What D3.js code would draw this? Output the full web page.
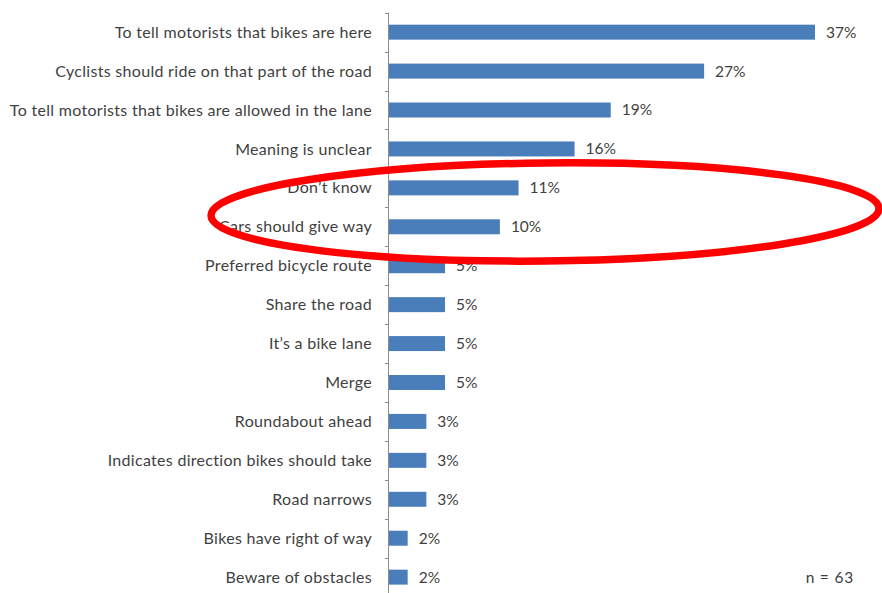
<!DOCTYPE html>
<html>
<head>
<meta charset="utf-8">
<script src="https://cdn.jsdelivr.net/npm/d3@7"></script>
<style>
  html, body { margin: 0; padding: 0; background: #fff; }
  svg { display: block; }
</style>
</head>
<body>
<div id="chart"></div>
<script>
// answers, top to bottom
const categories = [
  'To tell motorists that bikes are here',
  'Cyclists should ride on that part of the road',
  'To tell motorists that bikes are allowed in the lane',
  'Meaning is unclear',
  'Don\u2019t know',
  'Cars should give way',
  'Preferred bicycle route',
  'Share the road',
  'It\u2019s a bike lane',
  'Merge',
  'Roundabout ahead',
  'Indicates direction bikes should take',
  'Road narrows',
  'Bikes have right of way',
  'Beware of obstacles'
];
const values = [36.5, 27.0, 19.0, 15.9, 11.1, 9.5, 4.8, 4.8, 4.8, 4.8, 3.2, 3.2, 3.2, 1.6, 1.6];
const valueLabels = ['37%', '27%', '19%', '16%', '11%', '10%', '5%', '5%', '5%', '5%', '3%', '3%', '3%', '2%', '2%'];
const sampleNote = 'n = 63';

const width = 882;
const height = 593;
const font = 'Lato, "Open Sans", sans-serif';

const svg = d3.select('#chart')
  .append('svg')
  .attr('width', width)
  .attr('height', height)
  .attr('viewBox', [0, 0, width, height]);

const x = d3.scaleLinear()
  .domain([0, 36.5])
  .range([389, 815]);

const y = d3.scaleBand()
  .domain(categories)
  .range([12.7, 596.6])
  .paddingInner(0.615)
  .paddingOuter(0.3075);

const gap = (y.step() - y.bandwidth()) / 2;

// bars
svg.append('g')
  .selectAll('rect')
  .data(values)
  .join('rect')
  .attr('x', x(0))
  .attr('y', (d, i) => y(categories[i]))
  .attr('width', d => x(d) - x(0))
  .attr('height', y.bandwidth())
  .attr('fill', '#4a7ebb');

// axis line + boundary ticks
const axis = svg.append('g').attr('stroke', '#8c8c8c').attr('stroke-width', 1);
axis.append('line')
  .attr('x1', x(0) - 0.5).attr('x2', x(0) - 0.5)
  .attr('y1', y.range()[0]).attr('y2', height + 5);
axis.selectAll('line.tick')
  .data(categories)
  .join('line')
  .attr('class', 'tick')
  .attr('x1', x(0) - 4).attr('x2', x(0))
  .attr('y1', d => Math.round(y(d) - gap) + 0.5)
  .attr('y2', d => Math.round(y(d) - gap) + 0.5);

// category labels
svg.append('g')
  .selectAll('text')
  .data(categories)
  .join('text')
  .attr('x', 372)
  .attr('y', d => y(d) + y.bandwidth() / 2)
  .attr('dy', '0.35em')
  .attr('text-anchor', 'end')
  .attr('fill', '#3f3f3f')
  .attr('font-family', font)
  .attr('font-size', '16px')
  .attr('letter-spacing', '0.3px')
  .text(d => d);

// value labels
svg.append('g')
  .selectAll('text')
  .data(values)
  .join('text')
  .attr('x', d => x(d) + 11)
  .attr('y', (d, i) => y(categories[i]) + y.bandwidth() / 2)
  .attr('dy', '0.35em')
  .attr('fill', '#3f3f3f')
  .attr('font-family', font)
  .attr('font-size', '15.5px')
  .text((d, i) => valueLabels[i]);

svg.append('text')
  .attr('x', 854)
  .attr('y', y(categories[categories.length - 1]) + y.bandwidth() / 2)
  .attr('dy', '0.35em')
  .attr('text-anchor', 'end')
  .attr('fill', '#3f3f3f')
  .attr('font-family', font)
  .attr('font-size', '15.5px')
  .attr('letter-spacing', '0.8px')
  .text(sampleNote);

// red highlight ellipse drawn over the chart
svg.append('ellipse')
  .attr('cx', 545)
  .attr('cy', 212)
  .attr('rx', 334)
  .attr('ry', 49)
  .attr('transform', 'rotate(-0.6 545 212)')
  .attr('fill', 'none')
  .attr('stroke', '#ff0000')
  .attr('stroke-width', 7.5);
</script>
</body>
</html>
